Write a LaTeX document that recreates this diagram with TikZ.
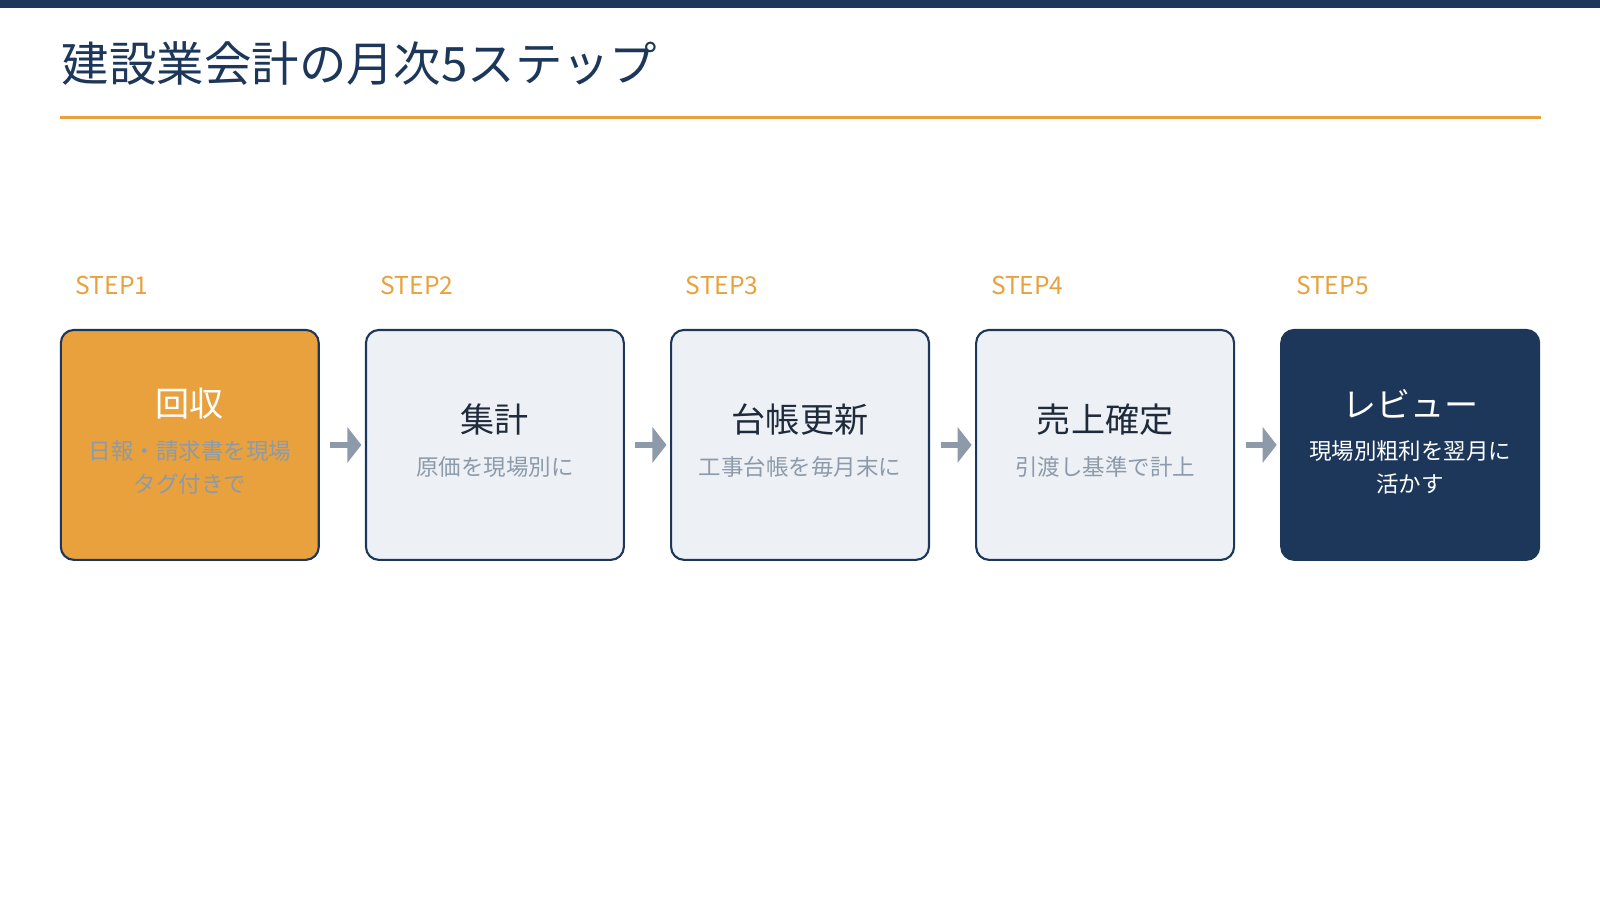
\documentclass[tikz,border=0pt]{standalone}
\usepackage{fontspec}
\setmainfont{Noto Sans CJK JP}
\usetikzlibrary{arrows.meta,positioning}
\definecolor{navy}{HTML}{1C3759}
\definecolor{amber}{HTML}{E8A13C}
\definecolor{pale}{HTML}{EDF1F6}
\definecolor{greytxt}{HTML}{8D9AAA}
\definecolor{ink}{HTML}{1F2B3B}
\begin{document}
\begin{tikzpicture}[x=0.0102041cm,y=-0.0102041cm,
	card/.style={rounded corners=0.13cm, draw=navy, line width=0.6pt, minimum width=2.58cm, minimum height=2.3cm, fill=pale},
	steplabel/.style={anchor=west, text=amber, font=\fontsize{7}{8}\selectfont},
	head/.style={font=\fontsize{9.7}{11}\selectfont},
	sub/.style={font=\fontsize{6.4}{9.2}\selectfont, text=greytxt, align=center},
	link/.style={line width=1.8pt, draw=greytxt, -{Triangle[length=4pt,width=10pt]}}]
		\useasboundingbox (0,0) rectangle (1568,882);
		\fill[navy] (0,0) rectangle (1568,8);
		\node[anchor=base west, text=navy, font=\fontsize{13.5}{15}\selectfont, inner sep=0pt] (title) at (60,80) {建設業会計の月次5ステップ};
		\draw[amber, line width=0.9pt] (59,115) -- (1510,115);

		\node[card, fill=amber] (s1) at (186,436) {};
		\node[card] (s2) at (485,436) {};
		\node[card] (s3) at (784,436) {};
		\node[card] (s4) at (1083,436) {};
		\node[card, fill=navy] (s5) at (1382,436) {};

		\node[steplabel] (l1) at (62,280) {STEP1};
		\node[steplabel] (l2) at (361,280) {STEP2};
		\node[steplabel] (l3) at (660,280) {STEP3};
		\node[steplabel] (l4) at (959,280) {STEP4};
		\node[steplabel] (l5) at (1258,280) {STEP5};

		\node[head, text=white] (h1) at (186,396) {回収};
		\node[sub] (t1) at (186,458) {日報・請求書を現場\\タグ付きで};
		\node[head, text=ink] (h2) at (485,411) {集計};
		\node[sub] (t2) at (485,458) {原価を現場別に};
		\node[head, text=ink] (h3) at (784,411) {台帳更新};
		\node[sub] (t3) at (784,458) {工事台帳を毎月末に};
		\node[head, text=ink] (h4) at (1083,411) {売上確定};
		\node[sub] (t4) at (1083,458) {引渡し基準で計上};
		\node[head, text=white] (h5) at (1382,396) {レビュー};
		\node[sub, text=white] (t5) at (1382,458) {現場別粗利を翌月に\\活かす};

		\draw[link] ([xshift=3pt]s1.east) -- ([xshift=-1pt]s2.west);
		\draw[link] ([xshift=3pt]s2.east) -- ([xshift=-1pt]s3.west);
		\draw[link] ([xshift=3pt]s3.east) -- ([xshift=-1pt]s4.west);
		\draw[link] ([xshift=3pt]s4.east) -- ([xshift=-1pt]s5.west);
	\end{tikzpicture}
\end{document}
